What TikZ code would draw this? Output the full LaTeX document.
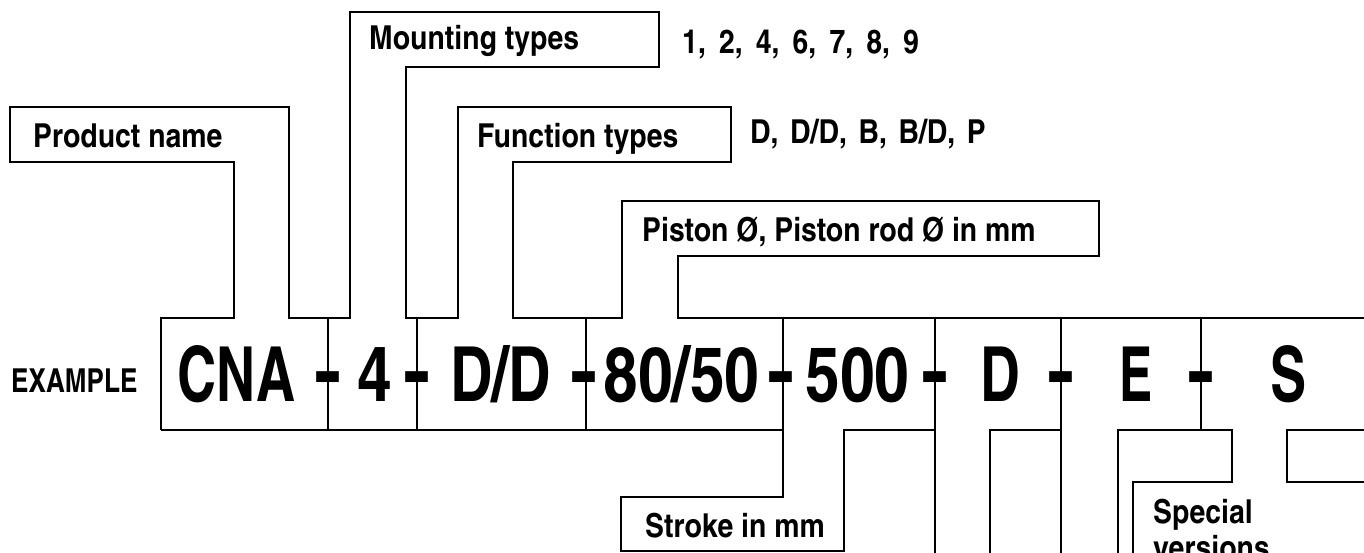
\documentclass[tikz,border=0pt]{standalone}
\usepackage{fontspec}
\newfontfamily\hcn{texgyreheroscn-bold.otf}
\begin{document}
\begin{tikzpicture}[x=1pt,y=-1pt,
  outl/.style={line width=1.5pt, line join=miter},
  lbl/.style={font=\hcn\fontsize{33}{36}\selectfont, anchor=base west, inner sep=0pt, xscale=1.05},
  code/.style={font=\hcn\fontsize{76}{80}\selectfont, anchor=base, inner sep=0pt},
  hyph/.style={font=\hcn\fontsize{76}{80}\selectfont, anchor=base, inner sep=0pt, xscale=1.3, yscale=1.1}]
\useasboundingbox (0,0) rectangle (1364,552);
\clip (0,0) rectangle (1364,552);
% outlines
\draw[outl] (161,430)--(161,318)--(234,318)--(234,162)--(10,162)--(10,107)--(289,107)--(289,318)
  --(350,318)--(350,12)--(659,12)--(659,67)--(406,67)--(406,318)--(458,318)--(458,107)--(731,107)
  --(731,162)--(513,162)--(513,318)--(622,318)--(622,201)--(1099,201)--(1099,256)--(678,256)
  --(678,318)--(1370,318);
\draw[outl] (161,430)--(783,430)--(783,497)--(621,497)--(621,551)--(844,551)--(844,430)--(935,430);
\draw[outl] (328,318)--(328,430) (417,318)--(417,430) (586,318)--(586,430) (783,318)--(783,430)
  (935,318)--(935,560) (1061,318)--(1061,560) (1201,318)--(1201,430);
\draw[outl] (990,560)--(990,430)--(1061,430);
\draw[outl] (1118,560)--(1118,430)--(1232,430)--(1232,482)--(1133,482)--(1133,560);
\draw[outl] (1370,430)--(1287,430)--(1287,482)--(1370,482);
% labels
\node[lbl] (prod) at (33,147) {Product name};
\node[lbl] (mount) at (369,49) {Mounting types};
\node[lbl] (mountv) at (682,53) {\spaceskip=12.5pt\relax 1, 2, 4, 6, 7, 8, 9};
\node[lbl] (func) at (477,147) {Function types};
\node[lbl] (funcv) at (750,143) {\spaceskip=11pt\relax D, D/D, B, B/D, P};
\node[lbl] (pist) at (642,241) {Piston Ø, Piston rod Ø in mm};
\node[lbl, xscale=0.92] (ex) at (11,392) {EXAMPLE};
\node[lbl] (strk) at (645,537) {Stroke in mm};
\node[lbl, align=left] (spec) at (1153,559) {Special\\versions};
% code
\node[code, xscale=0.87] (c1) at (236.5,401) {CNA};
\node[code] (c2) at (374.5,401) {4};
\node[code, xscale=0.94] (c3) at (500.5,401) {D/D};
\node[code] (c4) at (681.5,401) {80/50};
\node[code] (c5) at (857.5,401) {500};
\node[code, xscale=0.88] (c6) at (1000.5,401) {D};
\node[code, xscale=0.8] (c7) at (1136.5,401) {E};
\node[code, xscale=0.87] (c8) at (1289,401) {S};
\foreach \x/\n in {328/h1,417/h2,584/h3,781/h4,935/h5,1061/h6,1201/h7}
  \node[hyph] (\n) at (\x,400.5) {-};
\end{tikzpicture}
\end{document}
